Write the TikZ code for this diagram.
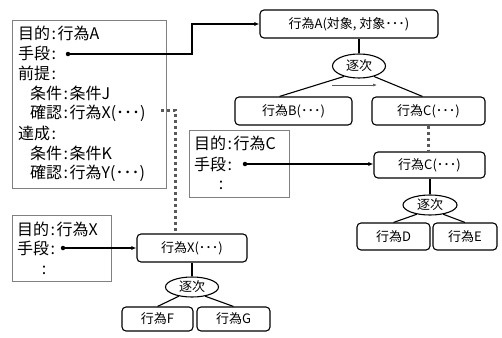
\documentclass[tikz,border=0pt]{standalone}
\usepackage{fontspec}
\newfontfamily\jp{Noto Sans CJK JP}
\usetikzlibrary{arrows.meta,calc,shapes.geometric}
\newcommand{\cln}{\hspace{1.5pt}:\hspace{1.5pt}}
\begin{document}
\begin{tikzpicture}[x=1pt,y=-1pt,
  act/.style={draw, rounded corners=4pt, line width=1.1pt, inner sep=0pt,
    font=\jp\fontsize{13}{13}\selectfont},
  seq/.style={draw, ellipse, line width=1.1pt, inner sep=0pt,
    font=\jp\fontsize{13}{13}\selectfont},
  infobox/.style={draw=gray, line width=0.8pt},
  txt/.style={anchor=west, inner sep=0pt, font=\jp\fontsize{16}{16}\selectfont},
  link/.style={line width=1.1pt},
  ptr/.style={line width=1.3pt, -{Latex[length=5pt,width=4pt]}},
  dots/.style={draw=black!65, line width=3pt, dash pattern=on 3pt off 3pt},
  pt/.style={circle, fill=black, inner sep=0pt, minimum size=4.5pt}
]
\useasboundingbox (0,0) rectangle (502,337);

% action nodes
\node[act, minimum width=178pt, minimum height=28pt] (A) at (349,24) {行為A(対象, 対象･･･)};
\node[act, minimum width=117pt, minimum height=28pt] (B) at (293.5,111) {行為B(･･･)};
\node[act, minimum width=113pt, minimum height=28pt] (C) at (428.5,111) {行為C(･･･)};
\node[act, minimum width=111pt, minimum height=26pt] (C2) at (429.5,165) {行為C(･･･)};
\node[act, minimum width=73pt, minimum height=27pt] (D) at (393.5,236.5) {行為D};
\node[act, minimum width=64pt, minimum height=27pt] (E) at (465,236.5) {行為E};
\node[act, minimum width=110pt, minimum height=28pt] (X) at (192,248) {行為X(･･･)};
\node[act, minimum width=71pt, minimum height=24pt] (F) at (157.5,319) {行為F};
\node[act, minimum width=73pt, minimum height=24pt] (G) at (233.5,319) {行為G};

% sequence ellipses
\node[seq, minimum width=53pt, minimum height=24pt] (S1) at (359,66) {逐次};
\node[seq, minimum width=54pt, minimum height=20pt] (S2) at (430,205) {逐次};
\node[seq, minimum width=53pt, minimum height=20pt] (S3) at (192,287) {逐次};

\draw[link] (A.south -| S1.north) -- (S1.north);
\draw[link] (S1.215) -- ([xshift=-14pt]B.north);
\draw[link] (S1.325) -- ([xshift=-6pt]C.north);
\draw[link] (C2.south -| S2.north) -- (S2.north);
\draw[link] (S2.215) -- (D.north);
\draw[link] (S2.325) -- (E.north);
\draw[link] (X.south) -- (S3.north);
\draw[link] (S3.215) -- (F.north);
\draw[link] (S3.325) -- (G.north);

% order arrow
\coordinate (o1) at (332,85);
\coordinate (o2) at (377,85);
\draw[gray!70!black, line width=0.7pt, -{Latex[length=4pt,width=3pt]}] (o1) -- (o2);

% info box 1
\draw[infobox] (12,20) rectangle (166,188);
\node[txt] (a1) at (18,33) {目的\cln 行為A};
\node[txt] (a2) at (18,53) {手段\cln};
\node[txt] (a3) at (18,73) {前提\cln};
\node[txt] (a4) at (30,93) {条件\cln 条件J};
\node[txt] (a5) at (30,113) {確認\cln 行為X(･･･)};
\node[txt] (a6) at (18,133) {達成\cln};
\node[txt] (a7) at (30,153) {条件\cln 条件K};
\node[txt] (a8) at (30,173) {確認\cln 行為Y(･･･)};
\node[pt] (p1) at (68,54) {};
\coordinate (k1) at (192,54);
\draw[ptr, line width=1.6pt] (p1) -- (k1) |- (A.west);

% info box C
\draw[infobox] (189,130) rectangle (289,197);
\node[txt] (c1) at (194,143) {目的\cln 行為C};
\node[txt] (c2) at (194,164) {手段\cln};
\node[txt, anchor=center] (c3) at (221,185) {:};
\node[pt] (p2) at (245,164) {};
\draw[ptr] (p2) -- (C2.west |- p2);

% info box X
\draw[infobox] (12,215) rectangle (111,281);
\node[txt] (x1) at (17,229) {目的\cln 行為X};
\node[txt] (x2) at (17,248) {手段\cln};
\node[txt, anchor=center] (x3) at (44,270) {:};
\node[pt] (p3) at (63,248) {};
\draw[ptr] (p3) -- (X.west);

% dotted references
\coordinate (d0) at (161,110);
\coordinate (d1) at (175,110);
\draw[dots] (d0) -- (d1) -- (d1 |- X.north);
\draw[dots] (C.south) -- (C.south |- C2.north);
\end{tikzpicture}
\end{document}
